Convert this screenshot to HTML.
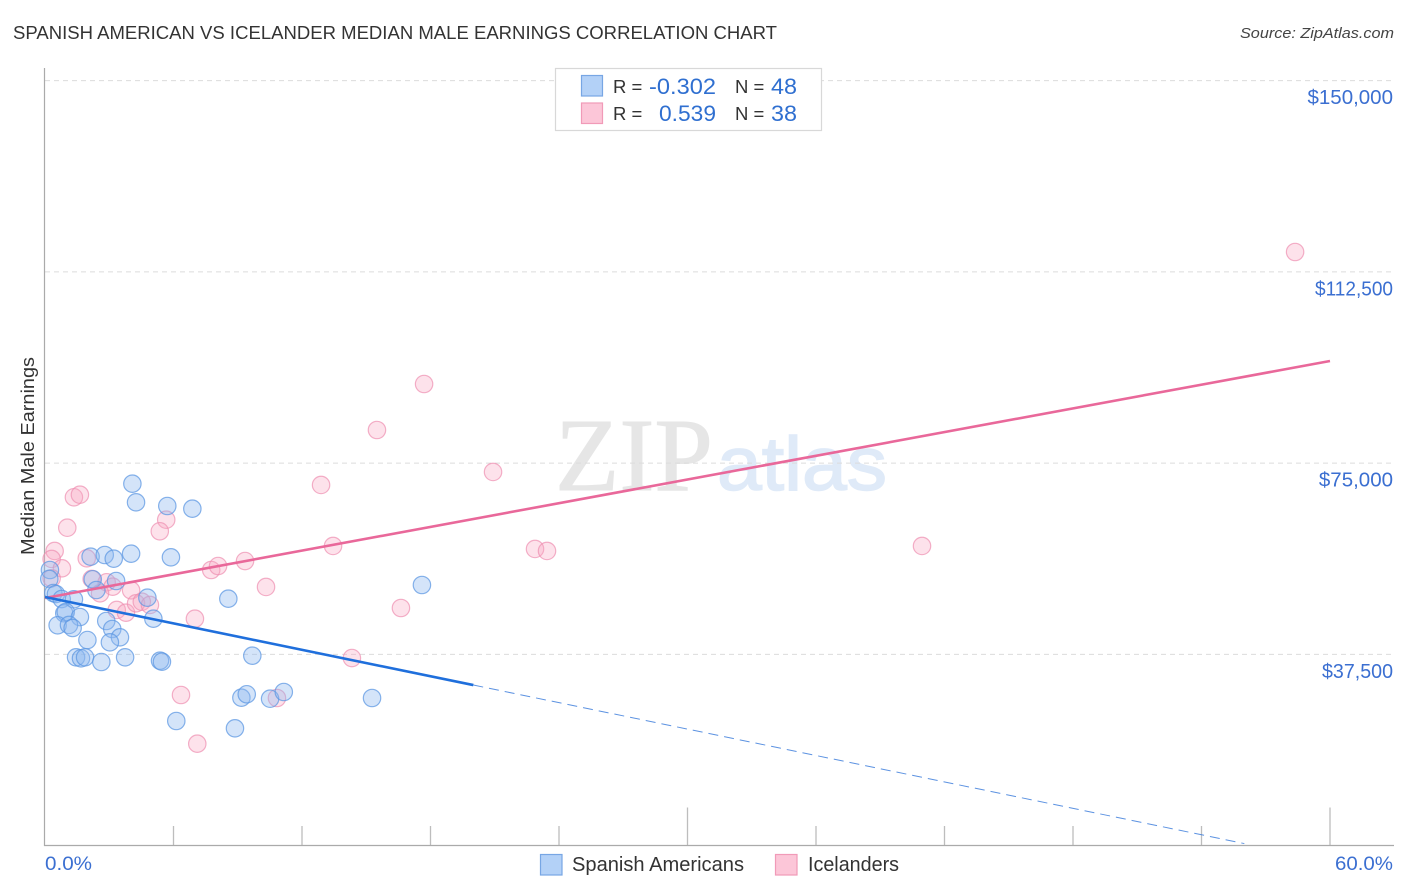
<!DOCTYPE html>
<html lang="en">
<head>
<meta charset="utf-8">
<title>Spanish American vs Icelander Median Male Earnings Correlation Chart</title>
<style>
html,body{margin:0;padding:0;background:#fff;width:1406px;height:892px;overflow:hidden}
svg{display:block}
text{font-family:"Liberation Sans",sans-serif}
</style>
</head>
<body>
<svg id="chart" xmlns="http://www.w3.org/2000/svg" width="1406" height="892" viewBox="0 0 1406 892">
  <text x="13" y="39" font-size="18" fill="#333" textLength="764" lengthAdjust="spacingAndGlyphs">SPANISH AMERICAN VS ICELANDER MEDIAN MALE EARNINGS CORRELATION CHART</text>
  <text x="1394" y="38" font-size="15" font-style="italic" fill="#444" text-anchor="end" textLength="154" lengthAdjust="spacingAndGlyphs">Source: ZipAtlas.com</text>

  <g>
    <text x="555" y="490" font-size="104" fill="#e6e6e6" stroke="#e6e6e6" stroke-width="1" style="font-family:'Liberation Serif',serif" textLength="158" lengthAdjust="spacingAndGlyphs">ZIP</text>
    <text x="717" y="490" font-size="76" fill="#dfeaf8" stroke="#dfeaf8" stroke-width="1.5" style="font-family:'Liberation Sans',sans-serif" textLength="170" lengthAdjust="spacingAndGlyphs">atlas</text>
  </g>

  <g id="grid"></g>
  <g id="xticks"></g>
  <line x1="44.5" y1="68" x2="44.5" y2="846" stroke="#aaa" stroke-width="1.2"/>
  <line x1="44" y1="845.5" x2="1394" y2="845.5" stroke="#aaa" stroke-width="1.2"/>
  <g id="points-blue"></g>
  <g id="points-pink"></g>
  <g id="trends"></g>
  <g id="ylabels"></g>

  <text transform="translate(34,456) rotate(-90)" font-size="18.5" fill="#333" text-anchor="middle" textLength="198" lengthAdjust="spacingAndGlyphs">Median Male Earnings</text>
  <text x="45" y="870" font-size="19" fill="#3b6fd1" textLength="47" lengthAdjust="spacingAndGlyphs">0.0%</text>
  <text x="1393" y="870" font-size="19" fill="#3b6fd1" text-anchor="end" textLength="58" lengthAdjust="spacingAndGlyphs">60.0%</text>

  <g>
    <rect x="555.5" y="68.5" width="266" height="62" fill="#fff" stroke="#d8d8d8" stroke-width="1.2"/>
    <rect x="581.5" y="75.5" width="21" height="20.5" fill="#b3d1f7" stroke="#77a6e4" stroke-width="1.2"/>
    <rect x="581.5" y="103" width="21" height="20.5" fill="#fcc6d8" stroke="#f19ab8" stroke-width="1.2"/>
    <text x="613" y="93" font-size="18.5" fill="#333">R =</text>
    <text x="716" y="94" font-size="22" fill="#2f6fd0" text-anchor="end" textLength="67" lengthAdjust="spacingAndGlyphs">-0.302</text>
    <text x="735" y="93" font-size="18.5" fill="#333">N =</text>
    <text x="771" y="94" font-size="22" fill="#2f6fd0" textLength="26" lengthAdjust="spacingAndGlyphs">48</text>
    <text x="613" y="120" font-size="18.5" fill="#333">R =</text>
    <text x="716" y="121" font-size="22" fill="#2f6fd0" text-anchor="end" textLength="57" lengthAdjust="spacingAndGlyphs">0.539</text>
    <text x="735" y="120" font-size="18.5" fill="#333">N =</text>
    <text x="771" y="121" font-size="22" fill="#2f6fd0" textLength="26" lengthAdjust="spacingAndGlyphs">38</text>
  </g>

  <g>
    <rect x="540.5" y="854.5" width="21.5" height="20.5" fill="#b3d1f7" stroke="#77a6e4" stroke-width="1.2"/>
    <text x="572" y="871" font-size="20" fill="#333" textLength="172" lengthAdjust="spacingAndGlyphs">Spanish Americans</text>
    <rect x="775.5" y="854.5" width="21.5" height="20.5" fill="#fcc6d8" stroke="#f19ab8" stroke-width="1.2"/>
    <text x="808" y="871" font-size="20" fill="#333" textLength="91" lengthAdjust="spacingAndGlyphs">Icelanders</text>
  </g>
</svg>
<script>
const blueX = [4.08,4.25,5.71,6.88,2.13,2.79,3.21,4.02,5.88,0.23,0.20,2.23,3.32,2.40,0.39,0.51,0.78,1.35,4.78,8.56,5.06,0.90,0.97,1.63,2.86,0.59,1.12,1.29,3.14,3.50,1.98,3.03,1.45,1.68,1.87,2.63,3.74,5.37,5.46,9.68,9.17,9.42,10.51,11.15,6.13,8.87,17.60,15.27];
const blueY = [70960,67310,66590,66060,56650,56980,56260,57240,56530,54040,52280,52220,51880,50120,49530,49330,48350,48290,48610,48410,44490,45550,45800,44820,44040,43200,43260,42670,42470,40840,40310,39860,36920,36730,36920,36000,36920,36260,36060,37240,29000,29670,28800,30120,24430,23000,51100,28940];
const pinkX = [1.35,1.63,1.04,5.66,5.36,0.45,0.31,0.79,1.95,0.31,2.18,2.88,3.16,2.57,4.02,7.76,8.08,9.34,10.32,3.35,3.78,4.25,4.52,4.90,7.00,6.35,10.83,7.11,58.37,17.70,15.50,20.92,12.89,13.45,22.88,23.44,40.95,16.62,14.33];
const pinkY = [68300,68800,62330,63900,61630,57770,56200,54370,56330,52410,52280,51630,50770,49470,50060,54040,54820,55800,50710,46200,45670,47510,47820,47180,44490,29530,28940,19980,116390,90510,81490,73260,70710,58750,58160,57770,58750,46590,36780];
const blueTrendX = [0,20];
const blueTrendY = [48750,31480];
const blueDashX = [20,56];
const blueDashY = [31480,400];
const pinkTrendX = [0,60];
const pinkTrendY = [48550,95020];
const yTicks = [37500,75000,112500,150000];
const yTickLabels = ["$37,500","$75,000","$112,500","$150,000"];
const xTicks = [6,12,18,24,30,36,42,48,54,60];
const xMajorTicks = [30,60];

const NS = "http://www.w3.org/2000/svg";
function xScale(v){ return 45 + v * (1285 / 60); }
function yScale(v){ return 845.6 - v * (765 / 150000); }
function make(tag, attrs, parent){
  const el = document.createElementNS(NS, tag);
  for (const k in attrs) el.setAttribute(k, attrs[k]);
  parent.appendChild(el);
  return el;
}

const gridG = document.getElementById("grid");
const ylabG = document.getElementById("ylabels");
yTicks.forEach((t, i) => {
  const ln = make("line", {x1:45, x2:1393, y1:yScale(t), y2:yScale(t), stroke:"#dcdcdc", "stroke-width":1, "stroke-dasharray":"5 4"}, gridG);
  
  
  const tx = make("text", {x:1393, y:yScale(t) + 23.5, "font-size":20.5, fill:"#3b6fd1", "text-anchor":"end"}, ylabG);
  tx.textContent = yTickLabels[i];
  const label = yTickLabels[i];
  if (label === "$112,500") { tx.setAttribute("textLength", 78); tx.setAttribute("lengthAdjust", "spacingAndGlyphs"); }
  if (label === "$37,500") { tx.setAttribute("textLength", 71); tx.setAttribute("lengthAdjust", "spacingAndGlyphs"); }
  
  
});

const tickG = document.getElementById("xticks");
xTicks.forEach(t => {
  const top = xMajorTicks.includes(t) ? 807.5 : 826;
  const ln = make("line", {x1:xScale(t), x2:xScale(t), y1:top, y2:845, stroke:"#bdbdbd", "stroke-width":1.3}, tickG);
  
  
});

const pinkG = document.getElementById("points-pink");
pinkX.forEach((x, i) => {
  const c = make("circle", {cx:xScale(x), cy:yScale(pinkY[i]), r:8.7, fill:"#f8a5c0", "fill-opacity":0.32, stroke:"#ee8fb0", "stroke-opacity":0.7, "stroke-width":1.2}, pinkG);
  
  
});
const blueG = document.getElementById("points-blue");
blueX.forEach((x, i) => {
  const c = make("circle", {cx:xScale(x), cy:yScale(blueY[i]), r:8.7, fill:"#8db8ef", "fill-opacity":0.38, stroke:"#5a96e2", "stroke-opacity":0.72, "stroke-width":1.2}, blueG);
  
  
});
document.getElementById("chart").insertBefore(pinkG, blueG);

const trendG = document.getElementById("trends");
const pinkLine = make("line", {x1:xScale(pinkTrendX[0]), y1:yScale(pinkTrendY[0]), x2:xScale(pinkTrendX[1]), y2:yScale(pinkTrendY[1]), stroke:"#e9689a", "stroke-width":2.6}, trendG);


const blueLine = make("line", {x1:xScale(blueTrendX[0]), y1:yScale(blueTrendY[0]), x2:xScale(blueTrendX[1]), y2:yScale(blueTrendY[1]), stroke:"#1f6fdc", "stroke-width":2.6}, trendG);


const blueDash = make("line", {x1:xScale(blueDashX[0]), y1:yScale(blueDashY[0]), x2:xScale(blueDashX[1]), y2:yScale(blueDashY[1]), stroke:"#3f7fdc", "stroke-width":1, "stroke-opacity":0.85, "stroke-dasharray":"10 6"}, trendG);


</script>
</body>
</html>
